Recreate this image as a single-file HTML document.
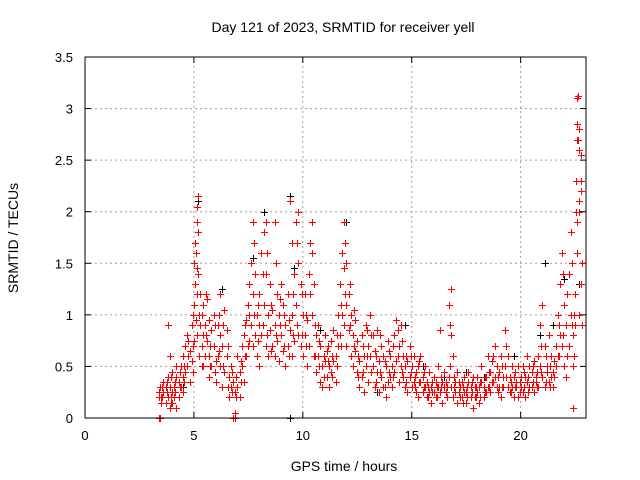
<!DOCTYPE html>
<html><head><meta charset="utf-8"><style>
body{margin:0;background:#fff;}
svg{display:block;font-family:"Liberation Sans",sans-serif;}
</style></head><body>
<svg id="chart" width="640" height="480" xmlns="http://www.w3.org/2000/svg">
<rect x="0" y="0" width="640" height="480" fill="#fff"/>
<text x="343" y="32" font-size="14" text-anchor="middle">Day 121 of 2023, SRMTID for receiver yell</text>
<text transform="translate(18,238) rotate(-90)" font-size="14" text-anchor="middle">SRMTID / TECUs</text>
<text x="344" y="471" font-size="14" text-anchor="middle">GPS time / hours</text>
<g id="grid"></g><g id="axes"></g><g id="black"></g><g id="red"></g>
<rect x="85" y="57" width="501" height="361" fill="none" stroke="#000" stroke-width="1"/>
</svg>
<script>
const xTicks=[0,5,10,15,20];
const yTicks=[0,0.5,1,1.5,2,2.5,3,3.5];
const yTickLabels=["0","0.5","1","1.5","2","2.5","3","3.5"];
const redT=[3.4,3.45,3.5,3.6,3.7,3.8,3.9,4.0,4.1,4.2,4.3,4.4,4.5,4.6,4.7,4.8,4.9,5.0,5.05,5.1,5.15,5.2,5.25,5.3,5.4,5.5,5.6,5.7,5.8,5.9,6.0,6.1,6.2,6.3,6.4,6.5,6.6,6.7,6.8,6.9,7.0,7.1,7.2,7.3,7.4,7.5,7.6,7.7,7.8,7.9,8.0,8.1,8.2,8.3,8.4,8.5,8.6,8.7,8.8,8.9,9.0,9.1,9.2,9.3,9.4,9.5,9.6,9.7,9.8,9.9,10.0,10.1,10.2,10.3,10.4,10.5,10.6,10.7,10.8,10.9,11.0,11.1,11.2,11.3,11.4,11.5,11.6,11.7,11.8,11.9,12.0,12.1,12.2,12.3,12.4,12.5,12.6,12.7,12.8,12.9,13.0,13.1,13.2,13.3,13.4,13.5,13.6,13.7,13.8,13.9,14.0,14.1,14.2,14.3,14.4,14.5,14.6,14.7,14.8,14.9,15.0,15.1,15.2,15.3,15.4,15.5,15.6,15.7,15.8,15.9,16.0,16.1,16.2,16.3,16.4,16.5,16.6,16.7,16.8,16.9,17.0,17.1,17.2,17.3,17.4,17.5,17.6,17.7,17.8,17.9,18.0,18.1,18.2,18.3,18.4,18.5,18.6,18.7,18.8,18.9,19.0,19.1,19.2,19.3,19.4,19.5,19.6,19.7,19.8,19.9,20.0,20.1,20.2,20.3,20.4,20.5,20.6,20.7,20.8,20.9,21.0,21.1,21.2,21.3,21.4,21.5,21.6,21.7,21.8,21.9,22.0,22.1,22.2,22.3,22.4,22.5,22.55,22.6,22.65,22.7,22.75,22.8];
const redV=[[0,0.2,0.25],[0,0.3],[0.2,0.15],[0.35,0.25],[0.3,0.15],[0.9,0.4,0.2],[0.6,0.3,0.1],[0.25,0.15,0.45],[0.3,0.2],[0.4,0.1,0.5],[0.35,0.2],[0.5,0.3],[0.6,0.25,0.4],[0.7,0.45],[0.5,0.8],[0.65,0.35],[0.9,0.55],[1.5,1.1,0.75],[1.7,1.3],[1.6,0.95],[2.05,1.2],[2.15,1.8,1.4],[1.0,0.6],[1.2,0.9],[0.8,0.5,1.1],[0.9,0.6],[1.15,0.75],[0.6,0.95,0.4],[0.5,0.85],[1.0,0.7],[0.35,0.55],[0.9,0.6],[1.2,0.8,0.5],[0.7,0.3],[1.05,0.45],[0.6,0.85],[0.4,0.2],[0.5,0.3],[0,0.35],[0.05,0.25,0],[0.3,0.6],[0.45,0.2],[0.7,0.5],[0.35,0.8],[0.95,0.6],[1.1,0.7],[1.5,0.9],[1.9,1.2,0.7],[1.4,0.8],[1.0,0.6],[1.2,0.9,0.5],[1.6,0.8],[1.8,1.1],[1.9,1.4,0.7],[1.0,0.6],[1.3,0.85],[0.7,1.05],[1.9,0.9,0.6],[1.2,0.75],[0.55,1.0],[1.3,0.8],[0.65,1.1],[0.9,0.5],[1.2,0.7],[2.1,0.85],[1.7,1.0,0.6],[1.4,0.75],[1.9,1.1],[2.0,1.5,0.8],[1.3,0.7],[1.0,0.6],[0.8,1.2],[0.5,0.95],[1.4,0.7],[1.9,1.6,1.0],[1.3,0.6],[0.8,0.45],[0.6,0.9],[0.35,0.7],[0.5,0.3],[0.8,0.55],[0.4,0.65],[0.3,0.5],[0.75,0.45],[0.55,0.85],[0.35,0.6],[1.0,0.7],[1.3,0.8],[1.6,1.0],[1.9,1.45,0.9],[1.5,1.1,0.7],[1.2,0.85],[1.0,0.6],[0.8,0.5],[0.95,0.65],[0.45,0.75],[0.3,0.55],[0.8,0.4],[0.6,0.25],[0.9,0.5],[0.7,0.35],[1.0,0.6],[0.5,0.8],[0.3,0.65],[0.85,0.45],[0.55,0.25],[0.7,0.4],[0.3,0.6],[0.5,0.2],[0.75,0.35],[0.6,0.4],[0.5,0.3],[0.8,0.45],[0.95,0.55],[0.7,0.35],[0.9,0.5],[0.4,0.6],[0.3,0.5],[0.55,0.25],[0.4,0.7],[0.3,0.5],[0.6,0.35],[0.25,0.45],[0.5,0.2],[0.35,0.6],[0.25,0.4],[0.5,0.3],[0.2,0.35],[0.45,0.25],[0.3,0.15],[0.4,0.25],[0.2,0.35],[0.3,0.5],[0.85,0.25],[0.35,0.15],[0.3,0.45],[0.2,0.3],[1.1,0.4],[1.25,0.8,0.3],[0.6,0.2],[0.35,0.25],[0.45,0.15],[0.3,0.2],[0.2,0.35],[0.4,0.25],[0.25,0.15],[0.35,0.45],[0.2,0.3],[0.4,0.1],[0.3,0.2],[0.25,0.4],[0.15,0.3],[0.35,0.5],[0.2,0.3],[0.4,0.25],[0.3,0.6],[0.45,0.25],[0.55,0.35],[0.7,0.4],[0.5,0.3],[0.3,0.45],[0.6,0.2],[0.4,0.3],[0.85,0.5],[0.6,0.3],[0.4,0.25],[0.3,0.5],[0.2,0.4],[0.35,0.3],[0.5,0.2],[0.3,0.4],[0.25,0.5],[0.4,0.2],[0.35,0.6],[0.5,0.3],[0.3,0.45],[0.55,0.25],[0.4,0.35],[0.6,0.3],[0.5,0.9],[1.1,0.4],[0.7,0.3],[0.5,0.45],[0.8,0.35],[0.6,0.4],[0.45,0.3],[0.7,0.5],[1.0,0.6],[1.3,0.8],[1.6,0.7],[1.1,0.5],[0.9,0.4],[1.4,0.7],[1.8,1.0],[0.8,0.5,0.1],[1.2,0.9],[2.3,2.0],[3.1,2.85,1.6],[3.12,2.7],[2.6,2.0,1.0],[2.55,2.3],[1.5,0.9]];
const redT2=[3.55,3.75,3.95,4.15,4.35,4.55,4.75,4.95,5.12,5.35,5.55,5.75,5.95,6.15,6.35,6.55,6.75,6.95,7.15,7.35,7.55,7.75,7.95,8.15,8.35,8.55,8.75,8.95,9.15,9.35,9.55,9.75,9.95,10.15,10.35,10.55,10.75,10.95,11.15,11.35,11.55,11.75,11.95,12.15,12.35,12.55,12.75,12.95,13.15,13.35,13.55,13.75,13.95,14.15,14.35,14.55,14.75,14.95,15.15,15.35,15.55,15.75,15.95,16.15,16.35,16.55,16.75,16.95,17.15,17.35,17.55,17.75,17.95,18.15,18.35,18.55,18.75,18.95,19.15,19.35,19.55,19.75,19.95,20.15,20.35,20.55,20.75,20.95,21.15,21.35,21.55,21.75,21.95,22.15,22.35,22.45,22.58,22.68,22.78];
const redV2=[[0.3,0.2],[0.25,0.35],[0.2,0.4,0.15],[0.35,0.25],[0.45,0.3],[0.5,0.35],[0.6,0.75],[0.7,0.45,1.0],[1.9,1.45,0.8],[1.0,0.7,0.5],[0.8,1.2],[0.5,0.7],[0.9,0.45],[0.65,1.0],[0.5,0.9],[0.3,0.7],[0.25,0.45],[0.2,0.4],[0.55,0.35],[0.6,0.9],[1.0,0.75,1.3],[1.7,1.0],[0.75,1.1],[1.4,0.9],[1.6,0.8],[1.1,0.65],[1.5,0.8],[0.9,1.15],[0.7,1.0],[0.95,0.6],[1.2,0.8],[1.7,0.9],[1.2,0.8],[0.7,1.0],[1.7,1.2],[0.9,0.6],[0.5,0.75],[0.6,0.4],[0.55,0.7],[0.6,0.4],[0.8,0.5],[1.1,0.7],[1.7,1.2],[1.3,0.9],[0.7,1.05],[0.6,0.4],[0.7,0.45],[0.6,0.85],[0.8,0.45],[0.6,0.35],[0.45,0.8],[0.55,0.3],[0.65,0.45],[0.7,0.4],[0.85,0.6],[0.75,0.45],[0.6,0.35],[0.45,0.6],[0.4,0.3],[0.35,0.55],[0.3,0.45],[0.3,0.2],[0.35,0.25],[0.3,0.2],[0.4,0.3],[0.25,0.35],[0.9,0.5],[0.4,0.3],[0.25,0.35],[0.3,0.15],[0.2,0.3],[0.35,0.25],[0.2,0.3],[0.35,0.2],[0.25,0.4],[0.45,0.3],[0.6,0.35],[0.4,0.25],[0.5,0.3],[0.7,0.4],[0.35,0.25],[0.3,0.45],[0.35,0.25],[0.45,0.3],[0.4,0.25],[0.35,0.5],[0.45,0.3],[0.7,0.45],[0.6,0.35],[0.5,0.3],[0.55,0.4],[0.9,0.6],[1.4,0.8],[1.2,0.6],[1.5,0.9],[1.0,0.6],[2.7,1.9],[2.8,2.1],[2.2,1.3]];
const blackT=[4.5,5.2,6.3,7.7,8.2,9.4,9.6,10.8,11.5,12.0,13.4,14.7,15.5,16.5,17.5,18.3,19.7,20.9,21.1,21.5,22.0,22.6,22.7];
const blackV=[[0.3],[2.1,1.4],[1.25],[1.55],[2.0],[2.15,0],[1.45],[0.85],[0.6],[1.9],[0.25],[0.9],[0.5],[0.4],[0.45],[0.4],[0.6],[0.8],[1.5],[0.9],[1.35],[2.85,2.7],[1.3]];

const X0=85,X1=586,Y0=418,Y1=57,XMAX=23,YMAX=3.5;
const xs=v=>X0+(X1-X0)*v/XMAX;
const ys=v=>Y0-(Y0-Y1)*v/YMAX;
const NS="http://www.w3.org/2000/svg";
function mk(tag,attrs,parent){const e=document.createElementNS(NS,tag);for(const k in attrs)e.setAttribute(k,attrs[k]);parent.appendChild(e);return e;}
const grid=document.getElementById('grid'),axes=document.getElementById('axes');
xTicks.forEach((t,i)=>{
  const x=xs(t);
  if(t>0){const g=mk('line',{x1:x,x2:x,y1:Y0,y2:Y1,stroke:'#a0a0a0','stroke-dasharray':'2,3'},grid);
  
  }
  mk('line',{x1:x,x2:x,y1:Y0,y2:Y0-6,stroke:'#000'},axes);
  mk('line',{x1:x,x2:x,y1:Y1,y2:Y1+6,stroke:'#000'},axes);
  const l=mk('text',{x:x,y:Y0+22,'font-size':'13','text-anchor':'middle'},axes);
  l.textContent=String(t);
  
  
});
yTicks.forEach((t,i)=>{
  const y=ys(t);
  if(t>0&&t<YMAX){const g=mk('line',{x1:X0,x2:X1,y1:y,y2:y,stroke:'#a0a0a0','stroke-dasharray':'2,3'},grid);
  
  }
  mk('line',{x1:X0,x2:X0+6,y1:y,y2:y,stroke:'#000'},axes);
  mk('line',{x1:X1,x2:X1-6,y1:y,y2:y,stroke:'#000'},axes);
  const l=mk('text',{x:X0-12,y:y+5,'font-size':'13','text-anchor':'end'},axes);
  l.textContent=yTickLabels[i];
  
  
});
function plot(T,V,color,gid,name){
  const g=document.getElementById(gid);
  let d='';
  T.forEach((t,i)=>{V[i].forEach(v=>{const x=Math.round(xs(t))+0.5,y=Math.round(ys(v))+0.5;d+=`M${x-3.5},${y}h7M${x},${y-3.5}v7`;});});
  const p=mk('path',{d:d,stroke:color,'stroke-width':'1',fill:'none','shape-rendering':'crispEdges'},g);
  
  
}
plot(blackT,blackV,'#000','black','black-series-points');
plot(redT,redV,'#ff0000','red','red-series-points');
plot(redT2,redV2,'#ff0000','red','red-series-points-2');
</script>
</body></html>
